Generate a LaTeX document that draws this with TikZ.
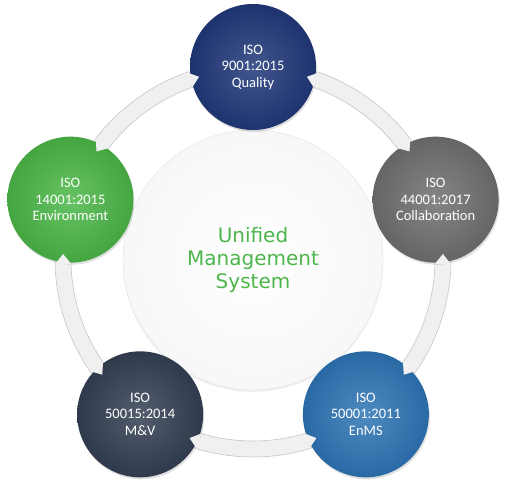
\documentclass[tikz,border=0pt]{standalone}
\usepackage{fontspec}
\setmainfont{Carlito}
\newfontfamily\umsfont{DejaVu Sans}
\usetikzlibrary{shadows}
\definecolor{qualblue}{HTML}{21397A}
\definecolor{collabgray}{HTML}{707070}
\definecolor{enmsblue}{HTML}{2E75B6}
\definecolor{mvslate}{HTML}{344054}
\definecolor{envgreen}{HTML}{4CB848}
\definecolor{umsgreen}{HTML}{4DB64A}
% one piece of the ring, from angle #1 down to angle #2, pointed at both ends
\newcommand{\ringpart}[2]{
\path[ring] (#1:198) arc[start angle=#1, end angle=#2, radius=198] -- ({#2-2.5}:190) -- (#2:182) arc[start angle=#2, end angle=#1, radius=182] -- ({#1+2.5}:190) -- cycle;
}

\begin{document}
\begin{tikzpicture}[x=1pt, y=1pt,
% ring between the standards
ring/.style={fill=gray!12, draw=gray!45, line width=0.6pt},
% centre disc
hubdisc/.style={circle, minimum size=260pt, inner sep=0, draw=gray!22, shading=radial, inner color=white, outer color=gray!6, drop shadow={opacity=0.12, shadow xshift=0pt, shadow yshift=-2pt}},
% the standards
iso/.style={circle, minimum size=126pt, inner sep=0, text=white, align=center, font=\fontsize{14.5}{16.5}\selectfont, drop shadow={opacity=0.25, shadow xshift=1pt, shadow yshift=-2pt}},
isocol/.style={iso, shading=radial, inner color=#1!85!white, outer color=#1!90!black}
]

\useasboundingbox (0,0) rectangle (505,486);

\coordinate (hub) at (253,227);

\begin{scope}[shift={(hub)}]

% centre
\node[hubdisc, font=\umsfont\fontsize{20}{23}\selectfont, text=umsgreen, align=center] (ums) at (0,-1) {Unified\\Management\\System};

% ring
\foreach \c in {90,18,-54,-126,-198} {
\pgfmathsetmacro{\ra}{\c-19}
\pgfmathsetmacro{\rb}{\c-53}
\ringpart{\ra}{\rb}
}

% standards
\node[isocol=qualblue] (qual) at (90:192) {ISO\\9001:2015\\Quality};
\node[isocol=collabgray] (collab) at (18:192) {ISO\\44001:2017\\Collaboration};
\node[isocol=enmsblue] (enms) at (-54:192) {ISO\\50001:2011\\EnMS};
\node[isocol=mvslate] (mv) at (-126:192) {ISO\\50015:2014\\M\&V};
\node[isocol=envgreen] (env) at (162:192) {ISO\\14001:2015\\Environment};

% pointed ends of the ring over the standards
\foreach \c in {90,18,-54,-126,-198} {
\path[fill=gray!12] ({\c-19.5}:198) -- ({\c-16.5}:190) -- ({\c-19.5}:182) -- cycle;
\path[fill=gray!12] ({\c-52.5}:198) -- ({\c-55.5}:190) -- ({\c-52.5}:182) -- cycle;
}

\end{scope}

\end{tikzpicture}
\end{document}
